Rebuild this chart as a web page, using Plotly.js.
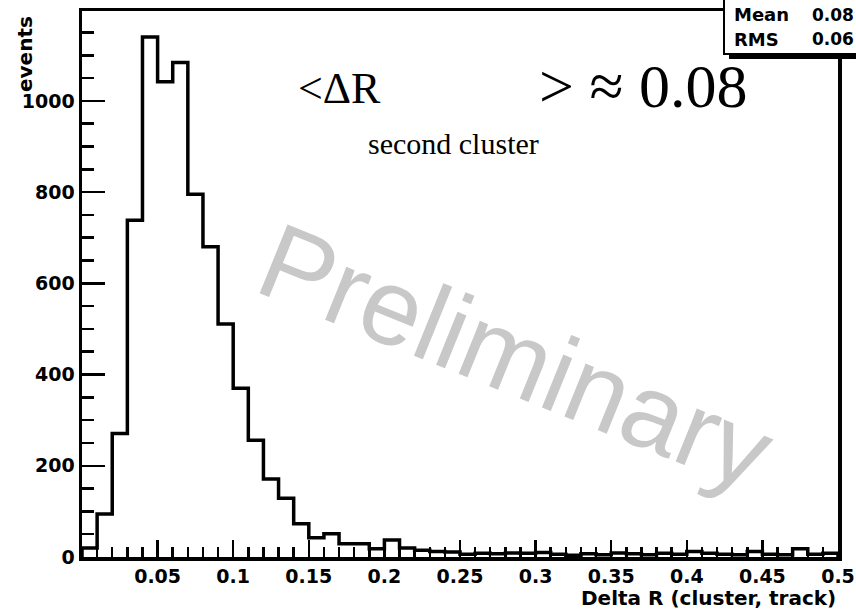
<!DOCTYPE html>
<html><head><meta charset="utf-8">
<script src="https://cdn.plot.ly/plotly-3.0.1.min.js"></script>
<style>html,body{margin:0;padding:0;background:#fff}#chart{width:856px;height:609px}</style>
</head><body><div id="chart"></div>
<script>
// ---- data ----
const binStart = 0.0;
const binWidth = 0.01;
const counts = [20, 94, 271, 738, 1140, 1042, 1084, 795, 680, 511,
                370, 256, 171, 129, 73, 42, 51, 29, 29, 18,
                37, 20, 15, 12, 11, 6, 8, 7, 9, 8,
                10, 6, 4, 7, 5, 9, 7, 5, 8, 6,
                12, 8, 6, 5, 12, 6, 5, 18, 6, 8];
const xTickVals = [0.05, 0.1, 0.15, 0.2, 0.25, 0.3, 0.35, 0.4, 0.45, 0.5];
const xTickText = ["0.05", "0.1", "0.15", "0.2", "0.25", "0.3", "0.35", "0.4", "0.45", "0.5"];
const yTickVals = [0, 200, 400, 600, 800, 1000];
const yTickText = ["0", "200", "400", "600", "800", "1000"];
const statNames = ["Mean", "RMS"];
const statValues = ["0.08", "0.06"];
const xTitle = "Delta R (cluster, track)";
const yTitle = "events";
const watermark = "Preliminary";

// ---- build step outline ----
const edges = counts.map((_, i) => +(binStart + i * binWidth).toFixed(4));
const xEnd = +(binStart + counts.length * binWidth).toFixed(4);
const xs = [binStart].concat(edges, [xEnd, xEnd]);
const ys = [0].concat(counts, [counts[counts.length - 1], 0]);

const L = 82, R = 838, T = 11, B = 557;
const px = v => (v - L) / (R - L);
const py = v => (B - v) / (B - T);

const bold = {family: "DejaVu Sans", size: 19, color: "#000", weight: 700};

const trace = {
  x: xs, y: ys, type: "scatter", mode: "lines",
  line: {shape: "hv", color: "#000", width: 3.5},
  hoverinfo: "skip", showlegend: false
};

const annotations = [
  {text: yTitle, x: px(25), y: py(54), xref: "paper", yref: "paper", showarrow: false,
   textangle: -90, xanchor: "center", yanchor: "middle",
   font: {family: "DejaVu Sans", size: 20, color: "#000", weight: 700}},
  {text: xTitle, x: 1, y: py(598), xref: "paper", yref: "paper", showarrow: false,
   xanchor: "right", yanchor: "middle",
   font: {family: "DejaVu Sans", size: 20, color: "#000", weight: 700}},
  {text: watermark, x: px(516), y: py(356), xref: "paper", yref: "paper", showarrow: false,
   textangle: 22, xanchor: "center", yanchor: "middle",
   font: {family: "Liberation Sans", size: 108, color: "#c8c8c8"}},
  {text: "&lt;ΔR", x: px(296), y: py(88), xref: "paper", yref: "paper", showarrow: false,
   xanchor: "left", yanchor: "middle",
   font: {family: "Liberation Serif", size: 44, color: "#000"}},
  {text: "second cluster", x: px(366), y: py(143), xref: "paper", yref: "paper", showarrow: false,
   xanchor: "left", yanchor: "middle",
   font: {family: "Liberation Serif", size: 30, color: "#000"}},
  {text: "&gt; ≈ 0.08", x: px(537), y: py(86), xref: "paper", yref: "paper", showarrow: false,
   xanchor: "left", yanchor: "middle",
   font: {family: "Liberation Serif", size: 62, color: "#000"}}
];
statNames.forEach((n, i) => {
  annotations.push({text: n, x: px(732), y: py(15 + i * 24), xref: "paper", yref: "paper",
    showarrow: false, xanchor: "left", yanchor: "middle",
    font: {family: "DejaVu Sans", size: 18, color: "#000", weight: 700}});
  annotations.push({text: statValues[i], x: px(810), y: py(15 + i * 24), xref: "paper", yref: "paper",
    showarrow: false, xanchor: "left", yanchor: "middle",
    font: {family: "DejaVu Sans", size: 17, color: "#000", weight: 700}});
});

const shapes = [
  {type: "rect", xref: "paper", yref: "paper", x0: px(729), x1: px(900), y0: py(59), y1: py(-10),
   fillcolor: "#000", line: {width: 0}, layer: "above"},
  {type: "rect", xref: "paper", yref: "paper", x0: px(724), x1: px(900), y0: py(54), y1: py(-10),
   fillcolor: "#fff", line: {width: 2, color: "#000"}, layer: "above"}
];

const layout = {
  width: 856, height: 609,
  margin: {l: L, r: 856 - R, t: T, b: 609 - B, pad: 0},
  paper_bgcolor: "#fff", plot_bgcolor: "#fff",
  showlegend: false,
  xaxis: {
    range: [0, 0.5], showgrid: false, zeroline: false,
    showline: true, mirror: true, linecolor: "#000", linewidth: 3.5,
    tickmode: "array", tickvals: xTickVals, ticktext: xTickText,
    ticks: "inside", ticklen: 17, tickwidth: 2.5, tickcolor: "#000",
    minor: {tickmode: "linear", tick0: 0, dtick: 0.01, ticks: "inside", ticklen: 10, tickwidth: 2.5, tickcolor: "#000", showgrid: false},
    tickfont: bold
  },
  yaxis: {
    range: [0, 1197], showgrid: false, zeroline: false,
    showline: true, mirror: true, linecolor: "#000", linewidth: 3.5,
    tickmode: "array", tickvals: yTickVals, ticktext: yTickText,
    ticks: "inside", ticklen: 23, tickwidth: 2.5, tickcolor: "#000",
    minor: {tickmode: "linear", tick0: 0, dtick: 50, ticks: "inside", ticklen: 12, tickwidth: 2.5, tickcolor: "#000", showgrid: false},
    tickfont: bold
  },
  annotations: annotations,
  shapes: shapes
};

Plotly.newPlot("chart", [trace], layout, {staticPlot: true, displayModeBar: false});
</script>
</body></html>
